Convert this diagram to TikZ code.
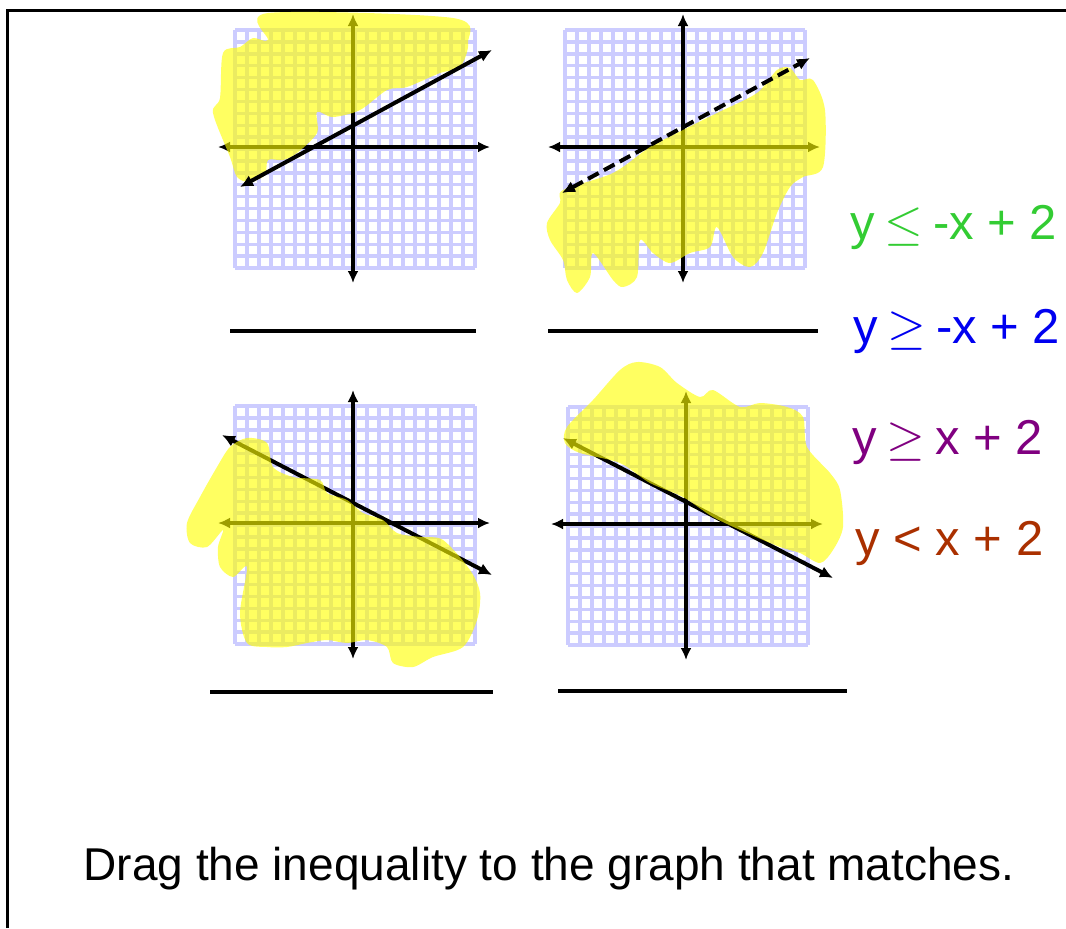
\documentclass[tikz,border=0pt]{standalone}
\usepackage{fontspec}
\setmainfont{Liberation Sans}
\usetikzlibrary{arrows.meta}
\definecolor{hijau}{RGB}{51,204,51}
\definecolor{biru}{RGB}{0,0,240}
\definecolor{ungu}{RGB}{128,0,128}
\definecolor{coklat}{RGB}{170,48,0}
\definecolor{kisi}{RGB}{204,204,255}
\definecolor{stabilo}{RGB}{255,255,0}
\newcommand{\bidang}[2]{%
  \foreach \i in {0,...,20} {
    \draw[kisi,line width=1.7pt] ({#1-118+12*\i},{#2-117}) -- ++(0,238);
    \draw[kisi,line width=1.7pt] ({#1-118},{#2-117+11.9*\i}) -- ++(240,0);
  }
  \draw[sumbu] ({#1-135},#2) -- ({#1+137},#2);
  \draw[sumbu] (#1,{#2-133}) -- (#1,{#2+136});
}
\newcommand{\rel}[1]{\hspace{0.2em}$#1$\hspace{0.2em}}

\begin{document}
\begin{tikzpicture}[x=0.5pt,y=-0.5pt,
  sumbu/.style={line width=1.9pt,{Latex[length=6pt,width=5.5pt]}-{Latex[length=6pt,width=5.5pt]}},
  garis/.style={line width=2pt,{Latex[length=6.5pt,width=6pt]}-{Latex[length=6.5pt,width=6pt]}},
  stabil/.style={stabilo,fill opacity=0.62},
  label/.style={inner sep=0pt,anchor=west,font=\fontsize{24.5}{29}\selectfont}]
  \useasboundingbox (0,0) rectangle (1066,928);

  % frame
  \draw[line width=1.6pt] (7.5,928) -- (7.5,10.5) -- (1066,10.5);

  % graph 1
  \bidang{353}{147}
  \fill[stabil] plot[smooth cycle,tension=0.5] coordinates {
    (268,13) (453,18) (468,43) (460,67) (440,73) (407,87) (387,90)
    (360,110) (333,117) (317,112) (317,133) (297,153) (283,160)
    (268,160) (265,175) (250,182) (237,177) (230,157) (213,113)
    (220,98) (223,53) (240,47) (253,38) (268,40)};
  \coordinate (A1) at (240,187);
  \coordinate (B1) at (492,50);
  \draw[garis] (A1) -- (B1);

  % graph 2
  \bidang{683}{147}
  \fill[stabil] plot[smooth cycle,tension=0.5] coordinates {
    (563,190) (613,173) (650,147) (683,130) (717,113) (757,93)
    (777,70) (790,68) (800,80) (813,80) (825,110) (823,167)
    (803,177) (790,187) (777,213) (763,253) (750,267) (733,257)
    (717,227) (710,247) (690,253) (670,263) (653,253) (640,240)
    (637,277) (623,287) (613,280) (593,253) (590,277) (577,293)
    (567,280) (563,260) (550,240) (547,223) (560,203)};
  \coordinate (A2) at (562,193);
  \coordinate (B2) at (810,58);
  \draw[garis,dash pattern=on 6pt off 3pt] (A2) -- (B2);

  % graph 3
  \bidang{353}{523}
  \coordinate (A3) at (222,435);
  \coordinate (B3) at (492,575);
  \draw[garis] (A3) -- (B3);
  \fill[stabil] plot[smooth cycle,tension=0.5] coordinates {
    (230,447) (247,438) (267,443) (273,467) (293,477) (320,480)
    (327,493) (347,500) (363,513) (383,520) (397,533) (420,537)
    (443,540) (470,570) (480,593) (477,620) (463,647) (433,657)
    (413,667) (393,663) (387,647) (367,640) (347,643) (327,640)
    (307,643) (287,647) (267,647) (247,643) (240,613) (247,567)
    (233,577) (220,567) (218,547) (223,530) (207,547) (190,543)
    (187,523) (200,497) (217,467)};

  % graph 4
  \bidang{686}{524}
  \coordinate (A4) at (563,438);
  \coordinate (B4) at (833,578);
  \draw[garis] (A4) -- (B4);
  \fill[stabil] plot[smooth cycle,tension=0.5] coordinates {
    (565,443) (567,427) (593,400) (620,370) (637,362) (660,367)
    (677,383) (700,397) (713,390) (740,407) (760,403) (787,407)
    (803,417) (807,447) (830,473) (840,490) (843,527) (833,550)
    (820,563) (800,553) (780,547) (747,533) (713,517) (683,497)
    (650,483) (620,463) (580,453)};

  % answer lines
  \draw[line width=1.6pt] (230,331) -- (476,331);
  \draw[line width=1.6pt] (548,331) -- (818,331);
  \draw[line width=1.6pt] (210,692) -- (493,692);
  \draw[line width=1.6pt] (558,691) -- (847,691);

  % inequalities
  \node[label,hijau]  (P1) at (850,227) {y\rel{\leq}-x + 2};
  \node[label,biru]   (P2) at (853,331) {y\rel{\geq}-x + 2};
  \node[label,ungu]   (P3) at (852,442) {y\rel{\geq}x + 2};
  \node[label,coklat] (P4) at (855,543) {y < x + 2};

  \node[font=\fontsize{23}{28}\selectfont] (judul) at (549,869)
    {Drag the inequality to the graph that matches.};
\end{tikzpicture}
\end{document}
